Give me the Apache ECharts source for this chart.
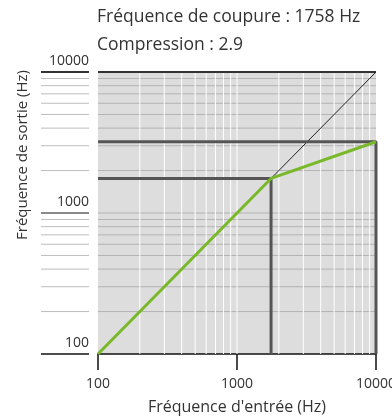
<!DOCTYPE html>
<html>
<head>
<meta charset="utf-8">
<script src="https://cdn.jsdelivr.net/npm/echarts@6/dist/echarts.min.js"></script>
<style>html,body{margin:0;padding:0;background:#fff}#c{width:392px;height:416px}</style>
</head>
<body>
<div id="c"></div>
<script>
// ---- data ----
const cutoffFreq = 1758;
const compression = 2.9;
const maxOutput = 3200; // output at 10000 Hz
const axisMin = 100;
const axisMax = 10000;
const majorTicks = [100, 1000, 10000];
const minorGrid = [200, 300, 400, 500, 600, 700, 800, 900, 2000, 3000, 4000, 5000, 6000, 7000, 8000, 9000];
const greenCurve = [[100, 100], [1758, 1758], [10000, 3200]];
const identityLine = [[100, 100], [10000, 10000]];
const cutoffGuide = [[100, 1758], [1758, 1758], [1758, 100]];
const maxGuide = [[100, 3200], [10000, 3200], [10000, 100]];

const FONT = 'Open Sans';
const TXT = '#333';

const chart = echarts.init(document.getElementById('c'), null, {renderer: 'canvas'});

const hGridData = minorGrid.concat([1000]).map(v => [axisMin, v, 0]).concat([[axisMin, axisMax, 1]]);
const vGridData = minorGrid.concat([1000]).map(v => [v, axisMin]);
const leftTickData = minorGrid.map(v => [axisMin, v, 0])
  .concat([[axisMin, 1000, 1], [axisMin, 10000, 2], [axisMin, 100, 3]]);

const leftTickStyles = [
  {stroke: '#bdbdbd', lineWidth: 1},
  {stroke: '#8a8a8a', lineWidth: 2},
  {stroke: '#333', lineWidth: 2},
  {stroke: '#111', lineWidth: 1.5}
];

const plainLabel = v => (majorTicks.indexOf(v) >= 0 ? String(v) : '');

chart.setOption({
  animation: false,
  title: {
    text: 'Fréquence de coupure : ' + cutoffFreq + ' Hz\nCompression : ' + compression,
    left: 97, top: 3, padding: 0,
    textStyle: {fontFamily: FONT, fontSize: 17.5, fontWeight: 'normal', color: TXT, lineHeight: 28}
  },
  grid: {left: 98, right: 16, top: 72, bottom: 62, show: true, backgroundColor: '#dddddd', borderWidth: 0,
    outerBoundsMode: 'none', containLabel: false},
  xAxis: {
    type: 'log', logBase: 10, min: axisMin, max: axisMax,
    name: "Fréquence d'entrée (Hz)", nameLocation: 'middle', nameGap: 45,
    nameTextStyle: {fontFamily: FONT, fontSize: 16, color: TXT},
    axisLine: {lineStyle: {color: '#111', width: 1.5}},
    axisTick: {length: 16, lineStyle: {color: '#111', width: 1.5}},
    axisLabel: {margin: 23, fontFamily: FONT, fontSize: 14, color: TXT, formatter: plainLabel},
    splitLine: {show: false}, minorTick: {show: false}
  },
  yAxis: {
    type: 'log', logBase: 10, min: axisMin, max: axisMax,
    name: 'Fréquence de sortie (Hz)', nameLocation: 'middle', nameGap: 68,
    nameTextStyle: {fontFamily: FONT, fontSize: 15, color: TXT, padding: [0, 0, 0, 116]},
    axisLine: {show: false},
    axisTick: {show: false},
    axisLabel: {margin: 9, fontFamily: FONT, fontSize: 14, color: TXT, verticalAlign: 'bottom', padding: [0, 0, 4, 0], formatter: plainLabel},
    splitLine: {show: false}
  },
  series: [
    {
      type: 'custom', z: 1, silent: true, clip: false,
      data: hGridData,
      renderItem: function (params, api) {
        const v = api.value(1);
        const a = api.coord([axisMin, v]);
        const b = api.coord([axisMax, v]);
        const top = api.value(2) === 1;
        return {type: 'line', shape: {x1: a[0], y1: a[1], x2: b[0], y2: b[1]},
          style: top ? {stroke: '#333', lineWidth: 2} : {stroke: '#b3b3b3', lineWidth: 1}, z2: top ? 10 : 1};
      }
    },
    {
      type: 'custom', z: 2, silent: true,
      data: vGridData,
      renderItem: function (params, api) {
        const v = api.value(0);
        const a = api.coord([v, axisMin]);
        const b = api.coord([v, axisMax]);
        return {type: 'line', shape: {x1: a[0], y1: a[1], x2: b[0], y2: b[1] + 1},
          style: {stroke: '#ffffff', lineWidth: 1}};
      }
    },
    {
      type: 'custom', z: 3, silent: true, clip: false,
      data: leftTickData,
      renderItem: function (params, api) {
        const p = api.coord([axisMin, api.value(1)]);
        return {type: 'line', shape: {x1: p[0] - 57, y1: p[1], x2: p[0] - 9, y2: p[1]},
          style: leftTickStyles[api.value(2)]};
      }
    },
    {
      type: 'line', z: 4, data: identityLine, symbol: 'none', silent: true,
      lineStyle: {color: '#222', width: 1}
    },
    {
      type: 'line', z: 5, data: cutoffGuide, symbol: 'none', silent: true,
      lineStyle: {color: '#555', width: 3}
    },
    {
      type: 'line', z: 5, data: maxGuide, symbol: 'none', silent: true, clip: false,
      lineStyle: {color: '#555', width: 3}
    },
    {
      type: 'line', z: 6, data: greenCurve, symbol: 'none', silent: true,
      lineStyle: {color: '#79b829', width: 3}
    }
  ]
});
</script>
</body>
</html>
